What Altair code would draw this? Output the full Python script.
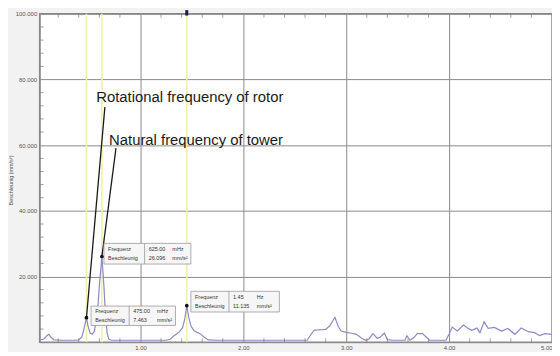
import altair as alt
import pandas as pd

# ---- spectrum (frequency in Hz, acceleration in mm/s²) ----
freq = [0.02, 0.06, 0.09, 0.11, 0.13, 0.16, 0.25, 0.35, 0.40, 0.43, 0.45, 0.475, 0.49, 0.51,
        0.53, 0.55, 0.58, 0.60, 0.625, 0.645, 0.66, 0.675, 0.69, 0.72, 0.90, 1.10, 1.25, 1.29,
        1.32, 1.35, 1.38, 1.41, 1.43, 1.45, 1.47, 1.49, 1.52, 1.55, 1.58, 1.62, 1.66, 1.75,
        2.00, 2.30, 2.62, 2.66, 2.69, 2.75, 2.80, 2.84, 2.89, 2.92, 2.95, 3.00, 3.04, 3.10,
        3.15, 3.19, 3.22, 3.26, 3.30, 3.33, 3.37, 3.40, 3.45, 3.57, 3.59, 3.62, 3.66, 3.69,
        3.74, 3.78, 3.81, 3.97, 4.00, 4.03, 4.08, 4.14, 4.18, 4.22, 4.27, 4.30, 4.34, 4.38,
        4.44, 4.51, 4.57, 4.64, 4.70, 4.77, 4.83, 4.88, 4.93, 5.00]
accel = [0.8, 0.9, 2.0, 2.4, 1.5, 0.7, 0.6, 0.6, 0.7, 1.5, 4.0, 7.46, 5.0, 2.8,
         2.4, 3.2, 8.0, 17.0, 26.1, 17.0, 8.0, 3.0, 1.0, 0.6, 0.6, 0.6, 0.6, 0.9,
         1.8, 2.5, 3.2, 4.5, 7.0, 11.1, 7.5, 5.0, 3.5, 3.0, 2.6, 1.5, 0.7, 0.6,
         0.6, 0.6, 0.6, 2.5, 3.7, 3.8, 3.9, 5.0, 7.6, 5.0, 3.4, 3.0, 2.8, 2.4,
         1.2, 0.6, 1.0, 2.6, 1.2, 1.5, 2.8, 0.8, 0.6, 0.6, 2.0, 0.6, 1.5, 2.6,
         2.6, 1.5, 0.6, 0.6, 2.5, 4.6, 3.4, 5.2, 4.3, 3.6, 4.3, 2.9, 6.2, 4.2,
         4.5, 3.4, 4.2, 2.4, 4.3, 3.2, 2.9, 2.0, 2.6, 2.4]

# ---- cursors ----
cursor_freq = [0.475, 0.625, 1.45]
cursor_accel = [7.463, 26.096, 11.135]
cursor_freq_text = ["475.00", "625.00", "1.45"]
cursor_freq_unit = ["mHz", "mHz", "Hz"]
cursor_accel_text = ["7.463", "26.096", "11.135"]

# ---- cursor info boxes (data coordinates) ----
box_x0 = [0.52, 0.645, 1.49]
box_x1 = [1.34, 1.49, 2.35]
box_div = [0.89, 1.04, 1.86]
box_y0 = [5.1, 23.8, 9.2]
box_y1 = [11.0, 30.1, 15.5]

# ---- annotations ----
annot_text = ["Rotational frequency of rotor", "Natural frequency of tower"]
annot_x = [0.57, 0.695]
annot_y = [74.6, 61.5]
leader_x = [0.654, 0.762]
leader_y = [71.6, 59.1]
leader_x2 = [0.475, 0.625]
leader_y2 = [7.463, 26.096]

# ---- axis ticks ----
x_major = [1, 2, 3, 4, 5]
y_major = [20, 40, 60, 80, 100]
x_minor = [0.2, 0.4, 0.6, 0.8, 1.2, 1.4, 1.6, 1.8, 2.2, 2.4, 2.6, 2.8, 3.2, 3.4, 3.6, 3.8,
           4.2, 4.4, 4.6, 4.8]
y_minor = [4, 8, 12, 16, 24, 28, 32, 36, 44, 48, 52, 56, 64, 68, 72, 76, 84, 88, 92, 96]

FONT = "Liberation Sans"
xs = alt.Scale(domain=[0.02, 5.0], nice=False, zero=False)
ys = alt.Scale(domain=[0, 100], nice=False)

spec = pd.DataFrame({"f": freq, "a": accel})
cur = pd.DataFrame({"f": cursor_freq, "a": cursor_accel})
boxes = pd.DataFrame({"x0": box_x0, "x1": box_x1, "d": box_div, "y0": box_y0, "y1": box_y1})

rows = []
for i in range(3):
    h = box_y1[i] - box_y0[i]
    ytop = box_y1[i] - h * 0.28
    ybot = box_y0[i] + h * 0.28
    rows += [
        {"x": box_x0[i] + 0.04, "y": ytop, "t": "Frequenz"},
        {"x": box_x0[i] + 0.04, "y": ybot, "t": "Beschleunig"},
        {"x": box_div[i] + 0.04, "y": ytop, "t": cursor_freq_text[i]},
        {"x": box_div[i] + 0.04, "y": ybot, "t": cursor_accel_text[i]},
        {"x": box_div[i] + 0.27, "y": ytop, "t": cursor_freq_unit[i]},
        {"x": box_div[i] + 0.27, "y": ybot, "t": "mm/s²"},
    ]
boxtext = pd.DataFrame(rows)

ann = pd.DataFrame({"t": annot_text, "x": annot_x, "y": annot_y})
lead = pd.DataFrame({"x": leader_x, "y": leader_y, "x2": leader_x2, "y2": leader_y2})

base_x = alt.X("f:Q", scale=xs, title=None,
               axis=alt.Axis(values=x_major, format=".2f", grid=True, gridColor="#8a8a8a",
                             ticks=False, domain=True, domainColor="#8a8a8a",
                             labelFontSize=6, labelColor="#555", labelFont=FONT,
                             labelPadding=2, labelFlush=True))
base_y = alt.Y("a:Q", scale=ys, title="Beschleunig (mm/s²)",
               axis=alt.Axis(values=y_major, format=".3f", grid=True, gridColor="#8a8a8a",
                             ticks=False, domain=True, domainColor="#8a8a8a",
                             labelFontSize=6, labelColor="#555", labelFont=FONT,
                             labelPadding=3, titleFontSize=5.5, titleFont=FONT,
                             titleColor="#555", titleFontWeight="normal",
                             titleX=-29, titleY=168, titleAngle=-90,
                             titleAlign="center", titleBaseline="middle"))

curve = alt.Chart(spec).mark_line(color="#8a8ac8", strokeWidth=1.2).encode(x=base_x, y=base_y)

cursors = alt.Chart(cur).mark_rule(color="#f3efa8", strokeWidth=1.5).encode(
    x=alt.X("f:Q", scale=xs))

xminor_df = pd.DataFrame({"v": x_minor})
yminor_df = pd.DataFrame({"v": y_minor})
xt_bottom = alt.Chart(xminor_df).mark_tick(orient="vertical", size=4, yOffset=-2,
                                           color="#777", thickness=1).encode(
    x=alt.X("v:Q", scale=xs), y=alt.value(332))
xt_top = alt.Chart(xminor_df).mark_tick(orient="vertical", size=4, yOffset=2,
                                        color="#777", thickness=1).encode(
    x=alt.X("v:Q", scale=xs), y=alt.value(0))
yt_left = alt.Chart(yminor_df).mark_tick(orient="horizontal", size=4, xOffset=2,
                                         color="#777", thickness=1).encode(
    y=alt.Y("v:Q", scale=ys), x=alt.value(0))

leaders = alt.Chart(lead).mark_rule(color="#1a1a1a", strokeWidth=1.3).encode(
    x=alt.X("x:Q", scale=xs), y=alt.Y("y:Q", scale=ys),
    x2="x2:Q", y2="y2:Q")

box_rect = alt.Chart(boxes).mark_rect(fill="#f6f6f6", stroke="#9a9a9a", strokeWidth=0.8).encode(
    x=alt.X("x0:Q", scale=xs), x2="x1:Q", y=alt.Y("y0:Q", scale=ys), y2="y1:Q")
box_div_rule = alt.Chart(boxes).mark_rule(color="#9a9a9a", strokeWidth=0.8).encode(
    x=alt.X("d:Q", scale=xs), y=alt.Y("y0:Q", scale=ys), y2="y1:Q")
box_txt = alt.Chart(boxtext).mark_text(align="left", baseline="middle", fontSize=5.5,
                                       font=FONT, color="#333").encode(
    x=alt.X("x:Q", scale=xs), y=alt.Y("y:Q", scale=ys), text="t:N")

markers = alt.Chart(cur).mark_circle(color="#111", size=14, opacity=1).encode(
    x=alt.X("f:Q", scale=xs), y=alt.Y("a:Q", scale=ys))

handle = alt.Chart(pd.DataFrame({"f": [cursor_freq[2]], "a": [100]})).mark_point(
    shape="M-0.55,-1L0.55,-1L0.55,1L-0.55,1Z", filled=True, color="#1c1c50",
    size=30, opacity=1, yOffset=-1).encode(x=alt.X("f:Q", scale=xs), y=alt.Y("a:Q", scale=ys))

ann_txt = alt.Chart(ann).mark_text(align="left", baseline="middle", fontSize=15,
                                   font=FONT, color="#1a1a1a").encode(
    x=alt.X("x:Q", scale=xs), y=alt.Y("y:Q", scale=ys), text="t:N")

chart = alt.layer(
    cursors, curve, xt_bottom, xt_top, yt_left, leaders, box_rect, box_div_rule,
    box_txt, markers, handle, ann_txt
).properties(
    width=518, height=332,
    autosize=alt.AutoSizeParams(type="none"),
    padding={"left": 32, "top": 4, "right": 0, "bottom": 8},
    background="#f2f2f2",
).configure_view(
    fill="white", stroke="#8a8a8a", strokeWidth=1.5
)

chart.save("out.html", embed_options={"renderer": "svg", "actions": False})
